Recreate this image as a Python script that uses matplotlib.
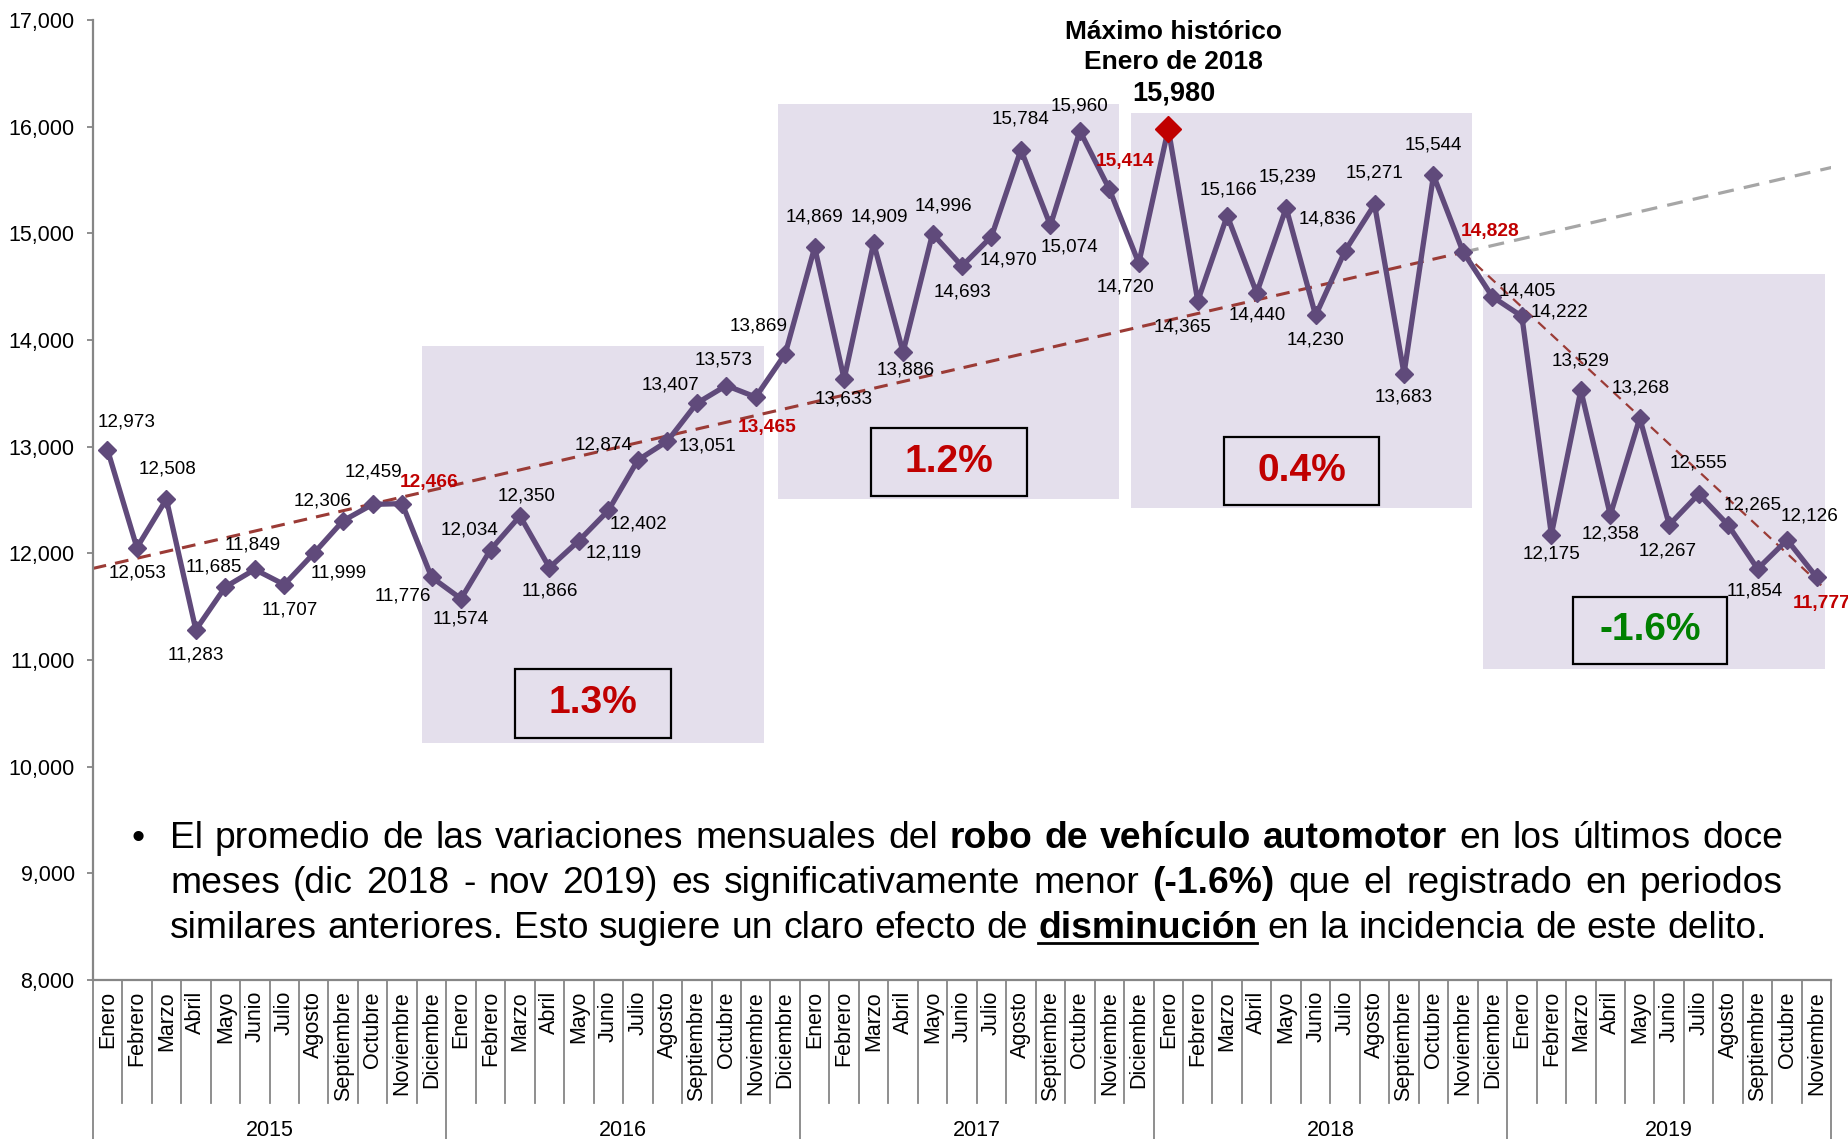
import matplotlib
matplotlib.use("Agg")
import matplotlib.pyplot as plt
from matplotlib.patches import Rectangle
from matplotlib.lines import Line2D
from matplotlib import transforms as mtransforms

plt.rcParams['font.family'] = ['Liberation Sans', 'DejaVu Sans']

# ---------------- data ----------------
months = ["Enero", "Febrero", "Marzo", "Abril", "Mayo", "Junio", "Julio",
          "Agosto", "Septiembre", "Octubre", "Noviembre", "Diciembre"]
years = ["2015", "2016", "2017", "2018", "2019"]
months_per_year = [12, 12, 12, 12, 11]

values_2015 = [12973, 12053, 12508, 11283, 11685, 11849, 11707, 11999, 12306, 12459, 12466, 11776]
values_2016 = [11574, 12034, 12350, 11866, 12119, 12402, 12874, 13051, 13407, 13573, 13465, 13869]
values_2017 = [14869, 13633, 14909, 13886, 14996, 14693, 14970, 15784, 15074, 15960, 15414, 14720]
values_2018 = [15980, 14365, 15166, 14440, 15239, 14230, 14836, 15271, 13683, 15544, 14828, 14405]
values_2019 = [14222, 12175, 13529, 12358, 13268, 12267, 12555, 12265, 11854, 12126, 11777]

red_label_idx = [10, 22, 34, 46, 58]      # Noviembre de cada año
max_idx = 36                              # Enero 2018

trend_up_x = [-0.5, 46]
trend_up_y = [11858, 14822]
trend_ext_x = [46, 58.5]
trend_ext_y = [14822, 15617]
trend_down_x = [46, 58.25]
trend_down_y = [14822, 11677]

pct_labels = ["1.3%", "1.2%", "0.4%", "-1.6%"]
pct_colors = ["#C00000", "#C00000", "#C00000", "#008000"]

title_lines = ["Máximo histórico", "Enero de 2018", "15,980"]

bullet_lines = [
    [("El promedio de las variaciones mensuales del", "n"), ("robo de vehículo automotor", "b"),
     ("en los últimos doce", "n")],
    [("meses (dic 2018 - nov 2019) es significativamente menor", "n"), ("(-1.6%)", "b"),
     ("que el registrado en periodos", "n")],
    [("similares anteriores. Esto sugiere un claro efecto de", "n"), ("disminución", "bu"),
     ("en la incidencia de este delito.", "n")],
]

# ---------------- layout (pixels / data units) ----------------
W, H, DPI = 1849, 1139, 100
PURPLE = "#604A7B"
SHADE = "#E4DFEC"
RED = "#C00000"
GREY = "#868686"

period_boxes = [(10.69, 22.28, 10225, 13940), (22.74, 34.33, 12512, 16211),
                (34.74, 46.31, 12423, 16130), (46.68, 58.27, 10912, 14622)]
pct_boxes = [(13.84, 19.11, 10272, 10917), (25.92, 31.20, 12534, 13173),
             (37.90, 43.15, 12455, 13086), (49.72, 54.96, 10963, 11594)]

# label offsets in pixels (dx right, dy down)
label_off = [
    (19, -28), (1, 25), (1, -30), (0, 25), (-11, -20), (-2, -24), (6, 25), (25, 20),
    (-21, -20), (1, -32), (27, -21), (-29, 19),
    (0, 20), (-21, -20), (7, -20), (0, 23), (35, 12), (30, 14), (-34, -15), (40, 5),
    (-26, -18), (-3, -26), (11, 30), (-27, -28),
    (0, -30), (0, 20), (6, -26), (3, 18), (11, -28), (1, 26), (17, 23), (0, -31),
    (19, 22), (0, -25), (16, -28), (-13, 24),
    None, (-15, 26), (1, -26), (1, 22), (1, -31), (0, 25), (-18, -32), (0, -31),
    (0, 23), (0, -30), (27, -20), (35, -6),
    (38, -4), (0, 19), (0, -29), (0, 19), (1, -30), (-2, 26), (0, -31), (24, -20),
    (-3, 22), (22, -24), (5, 26),
]

values = values_2015 + values_2016 + values_2017 + values_2018 + values_2019
xs = list(range(len(values)))

fig = plt.figure(figsize=(W / DPI, H / DPI), dpi=DPI)
ax_left, ax_right, ax_top, ax_bot = 92.7, 1831.3, 20.0, 980.0
ax = fig.add_axes([ax_left / W, (H - ax_bot) / H, (ax_right - ax_left) / W, (ax_bot - ax_top) / H])
ax.set_xlim(-0.5, len(values) - 0.5)
ax.set_ylim(8000, 17000)

for s in ["top", "right"]:
    ax.spines[s].set_visible(False)
for s in ["left", "bottom"]:
    ax.spines[s].set_color(GREY)
    ax.spines[s].set_linewidth(1.6)

yt = list(range(8000, 17001, 1000))
ax.set_yticks(yt)
ax.set_yticklabels([f"{v:,}" for v in yt])
ax.tick_params(axis="y", direction="out", length=4, width=1.3, color=GREY,
               labelsize=15.5, pad=9, labelcolor="black")
ax.set_xticks([])

# shaded periods
for x0, x1, y0, y1 in period_boxes:
    ax.add_patch(Rectangle((x0, y0), x1 - x0, y1 - y0, facecolor=SHADE, edgecolor="none", zorder=0))

# trend lines
ax.plot(trend_up_x, trend_up_y, color="#9B3B36", lw=2.2, dashes=(4.5, 3), zorder=2)
ax.plot(trend_ext_x, trend_ext_y, color="#A6A6A6", lw=2.3, dashes=(5, 3.2), zorder=2)
ax.plot(trend_down_x, trend_down_y, color="#9B3B36", lw=1.6, dashes=(4.5, 3.2), zorder=2)

# main series
ax.plot(xs, values, color=PURPLE, lw=3.8, marker="D", ms=9, mfc=PURPLE, mec=PURPLE, zorder=5)
ax.plot([max_idx], [values[max_idx]], "D", color=RED, ms=13, zorder=6)

# data labels
for i, v in enumerate(values):
    off = label_off[i]
    if off is None:
        continue
    red = i in red_label_idx
    ax.annotate(f"{v:,}", (i, v), xytext=(off[0], -off[1]), textcoords="offset pixels",
                ha="center", va="center", fontsize=13.8 if red else 13.6,
                color=RED if red else "black", fontweight="bold" if red else "normal", zorder=7)

# title of maximum
title_offsets = [97, 67, 35.5]
for txt, dy in zip(title_lines, title_offsets):
    ax.annotate(txt, (max_idx, values[max_idx]), xytext=(5.5, dy), textcoords="offset pixels",
                ha="center", va="center", fontsize=19 if txt != "15,980" else 19.5,
                fontweight="bold", color="black", zorder=7)

# percentage boxes
for (x0, x1, y0, y1), lab, col in zip(pct_boxes, pct_labels, pct_colors):
    ax.add_patch(Rectangle((x0, y0), x1 - x0, y1 - y0, facecolor="none", edgecolor="black",
                           lw=1.6, zorder=3))
    ax.text((x0 + x1) / 2, (y0 + y1) / 2, lab, ha="center", va="center", fontsize=28,
            fontweight="bold", color=col, zorder=4)

# multi-level category axis
xtr = ax.get_xaxis_transform()
def px_down(d):
    return xtr + mtransforms.ScaledTranslation(0, -d / DPI, fig.dpi_scale_trans)

axh = ax_bot - ax_top
idx = 0
boundaries = [-0.5]
for y, n in zip(years, months_per_year):
    for m in range(n):
        ax.text(idx, 0, months[m], transform=px_down(11), rotation=90, ha="center", va="top",
                fontsize=15.5, color="black", clip_on=False)
        idx += 1
    boundaries.append(idx - 0.5)
    center = idx - n / 2 - 0.5
    ax.text(center, 0, y, transform=px_down(150), ha="center", va="center", fontsize=15.5,
            color="black", clip_on=False)

for k in range(len(values) + 1):
    b = k - 0.5
    depth = 175 if b in boundaries else 123
    ax.add_line(Line2D([b, b], [0, -depth / axh], transform=xtr, color=GREY, lw=1.3,
                       clip_on=False, zorder=1))

# ---------------- bullet paragraph ----------------
renderer = fig.canvas.get_renderer()
FS = 26.8
left_px, right_px = 170.0, 1783.0
baselines = [848.3, 893.3, 938.3]

def measure(s, bold):
    t = fig.text(0, 0, s, fontsize=FS, fontweight="bold" if bold else "normal")
    w = t.get_window_extent(renderer).width
    t.remove()
    return w

space_w = measure("n n", False) - measure("nn", False)

for li, (segments, base) in enumerate(zip(bullet_lines, baselines)):
    words = []
    for txt, style in segments:
        for w in txt.split(" "):
            words.append((w, style))
    widths = [measure(w, "b" in st) for w, st in words]
    if li < 2:
        gap = (right_px - left_px - sum(widths)) / (len(words) - 1)
    else:
        gap = space_w
    x = left_px
    yf = (H - base) / H
    for (w, st), wd in zip(words, widths):
        fig.text(x / W, yf, w, fontsize=FS, fontweight="bold" if "b" in st else "normal",
                 ha="left", va="baseline", color="black")
        if "u" in st:
            uy = (H - base - 5) / H
            fig.add_artist(Line2D([x / W, (x + wd) / W], [uy, uy], transform=fig.transFigure,
                                  color="black", lw=2.0))
        x += wd + gap

fig.text(138.3 / W, (H - baselines[0]) / H, "•", fontsize=FS, ha="center", va="baseline",
         color="black")

fig.savefig("out.png", dpi=DPI)
